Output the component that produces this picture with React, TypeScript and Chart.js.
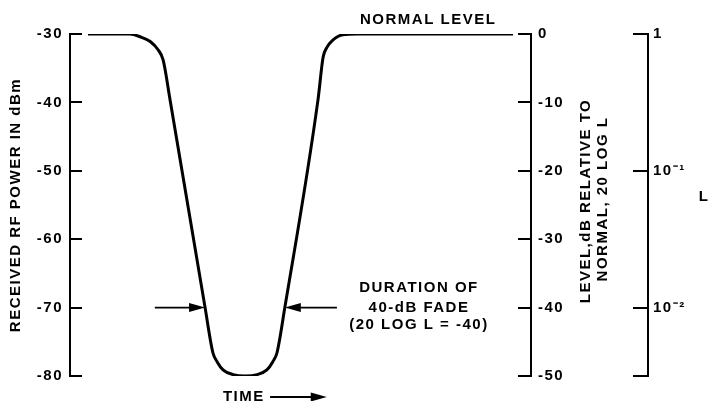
import React, { useEffect, useRef } from 'react';
import { Chart, registerables } from 'chart.js';

Chart.register(...registerables);

// Fade curve: time (arbitrary units 0..100) vs received power (dBm)
const TIME = [3.9, 13.0, 15.2, 17.4, 19.1, 20.2, 21.7, 29.3, 31.0, 31.9, 33.2, 35.4, 38.0, 40.6, 42.7, 44.0, 44.9, 46.6, 53.8, 54.9, 55.7, 57.0, 59.2, 62.3, 96.1];
const POWER_DBM = [-30, -30, -30.4, -31.1, -32.3, -33.8, -39.6, -70, -76.6, -77.9, -79.1, -79.8, -80, -79.8, -79.1, -77.9, -76.6, -70, -39.6, -33.4, -32.0, -30.9, -30.1, -30, -30];

// Axis ticks
const POWER_TICKS = [-80, -70, -60, -50, -40, -30];
const LEVEL_TICKS = [-50, -40, -30, -20, -10, 0];
const L_TICKS = [1, 0.1, 0.01, Math.pow(10, -2.5)];
const L_LABELS = ['1', '10\u207B\u00B9', '10\u207B\u00B2', ''];

// Annotation anchors (data units)
const FADE_LEVEL = -70;
const ARROW_LEFT = [18.4, 29.3];
const ARROW_RIGHT = [57.9, 46.6];
const FADE_TEXT_T = 75.7;
const FADE_TEXT = ['DURATION OF', '40-dB FADE', '(20 LOG L = -40)'];
const NORMAL_TEXT_T = 77.7;
const TIME_TEXT_T = 37.7;
const TIME_ARROW = [43.4, 55.7];

const FONT = 'Liberation Sans';
const FS = 15;
const LS = '1.5px';

function arrow(ctx: CanvasRenderingContext2D, x1: number, y1: number, x2: number, y2: number) {
  const dir = Math.sign(x2 - x1);
  const head = 16;
  const hw = 4.5;
  ctx.beginPath();
  ctx.moveTo(x1, y1);
  ctx.lineTo(x2 - dir * head * 0.6, y2);
  ctx.stroke();
  ctx.beginPath();
  ctx.moveTo(x2, y2);
  ctx.lineTo(x2 - dir * head, y2 - hw);
  ctx.lineTo(x2 - dir * head, y2 + hw);
  ctx.closePath();
  ctx.fill();
}

const annotPlugin = {
  id: 'annot',
  beforeDraw(chart: any) {
    (chart.ctx as any).letterSpacing = LS;
  },
  afterDraw(chart: any) {
    const { ctx, chartArea, scales } = chart;
    const xs = scales.x, ys = scales.y, y2 = scales.y2, y3 = scales.y3;
    ctx.save();
    (ctx as any).letterSpacing = LS;
    ctx.strokeStyle = '#000';
    ctx.fillStyle = '#000';
    ctx.lineWidth = 2;
    ctx.lineCap = 'butt';
    // tick marks (inside)
    ctx.beginPath();
    ys.ticks.forEach((t: any) => {
      const p = Math.round(ys.getPixelForValue(t.value));
      ctx.moveTo(chartArea.left - 1, p);
      ctx.lineTo(chartArea.left + 12, p);
    });
    y2.ticks.forEach((t: any) => {
      const p = Math.round(y2.getPixelForValue(t.value));
      ctx.moveTo(chartArea.right - 13, p);
      ctx.lineTo(chartArea.right + 1, p);
    });
    y3.ticks.forEach((t: any) => {
      const p = Math.round(y3.getPixelForValue(t.value));
      ctx.moveTo(y3.left - 15, p);
      ctx.lineTo(y3.left + 1, p);
    });
    ctx.stroke();

    // arrows at fade level
    const ya = ys.getPixelForValue(FADE_LEVEL);
    ctx.lineWidth = 1.6;
    arrow(ctx, xs.getPixelForValue(ARROW_LEFT[0]), ya, xs.getPixelForValue(ARROW_LEFT[1]), ya);
    arrow(ctx, xs.getPixelForValue(ARROW_RIGHT[0]), ya, xs.getPixelForValue(ARROW_RIGHT[1]), ya);

    ctx.font = `bold ${FS}px "${FONT}"`;
    ctx.textAlign = 'center';
    ctx.textBaseline = 'middle';
    const fx = xs.getPixelForValue(FADE_TEXT_T);
    ctx.fillText(FADE_TEXT[0], fx, ya - 20);
    ctx.fillText(FADE_TEXT[1], fx, ya);
    ctx.fillText(FADE_TEXT[2], fx, ya + 17);

    ctx.fillText('NORMAL LEVEL', xs.getPixelForValue(NORMAL_TEXT_T), chartArea.top - 14);

    // time label and arrow
    const ty = chartArea.bottom + 21;
    ctx.fillText('TIME', xs.getPixelForValue(TIME_TEXT_T), ty);
    ctx.lineWidth = 1.8;
    arrow(ctx, xs.getPixelForValue(TIME_ARROW[0]), ty, xs.getPixelForValue(TIME_ARROW[1]), ty);

    // middle axis title (two lines, bottom-to-top)
    const cy = (chartArea.top + chartArea.bottom) / 2;
    ctx.save();
    ctx.translate(y2.left + 55, cy - 4);
    ctx.rotate(-Math.PI / 2);
    ctx.fillText('LEVEL,dB RELATIVE TO', 0, 0);
    ctx.restore();
    ctx.save();
    ctx.translate(y2.left + 72, cy - 6);
    ctx.rotate(-Math.PI / 2);
    ctx.fillText('NORMAL, 20 LOG L', 0, 0);
    ctx.restore();

    // right axis title
    ctx.fillText('L', y3.left + 56, cy - 8);
    ctx.restore();
  },
};

export default function App() {
  const ref = useRef<HTMLCanvasElement>(null);
  useEffect(() => {
    if (!ref.current) return;
    const font = { family: FONT, size: FS, weight: 'bold' };
    const chart = new Chart(ref.current, {
      type: 'line',
      data: {
        datasets: [
          {
            data: TIME.map((t, i) => ({ x: t, y: POWER_DBM[i] })),
            borderColor: '#000',
            borderWidth: 3,
            pointRadius: 0,
            cubicInterpolationMode: 'monotone',
            fill: false,
            xAxisID: 'x',
            yAxisID: 'y',
          },
        ],
      },
      options: {
        animation: false,
        responsive: false,
        events: [],
        layout: { padding: { top: 34, bottom: 25, left: 0, right: 0 } },
        plugins: { legend: { display: false }, tooltip: { enabled: false }, title: { display: false } },
        scales: {
          x: { type: 'linear', min: 0, max: 100, display: false },
          y: {
            type: 'linear',
            position: 'left',
            min: -80,
            max: -30,
            afterBuildTicks: (s: any) => { s.ticks = POWER_TICKS.map((v) => ({ value: v })); },
            ticks: { color: '#000', font, padding: 7, callback: (v: any) => String(v) },
            grid: { display: false, drawTicks: false },
            border: { display: true, color: '#000', width: 2 },
            title: { display: true, text: 'RECEIVED RF POWER IN dBm', color: '#000', font, padding: { top: 7, bottom: 0 } },
            afterFit: (s: any) => { s.width = 70; s.paddingTop = 0; s.paddingBottom = 0; },
          },
          y2: {
            type: 'linear',
            position: 'right',
            min: -50,
            max: 0,
            afterBuildTicks: (s: any) => { s.ticks = LEVEL_TICKS.map((v) => ({ value: v })); },
            ticks: { color: '#000', font, padding: 7, callback: (v: any) => String(v) },
            grid: { display: false, drawTicks: false },
            border: { display: true, color: '#000', width: 2 },
            afterFit: (s: any) => { s.width = 117; s.paddingTop = 0; s.paddingBottom = 0; },
          },
          y3: {
            type: 'logarithmic',
            position: 'right',
            min: Math.pow(10, -2.5),
            max: 1,
            afterBuildTicks: (s: any) => { s.ticks = L_TICKS.map((v) => ({ value: v })); },
            ticks: { color: '#000', font, padding: 5, callback: (_v: any, i: number) => L_LABELS[i] },
            grid: { display: false, drawTicks: false },
            border: { display: true, color: '#000', width: 2 },
            afterFit: (s: any) => { s.width = 60; s.paddingTop = 0; s.paddingBottom = 0; },
          },
        },
      } as any,
      plugins: [annotPlugin],
    });
    return () => chart.destroy();
  }, []);
  return (
    <div style={{ position: 'fixed', left: 0, top: 0, width: 708, height: 401, background: '#fff' }}>
      <canvas ref={ref} width={708} height={401} />
    </div>
  );
}
